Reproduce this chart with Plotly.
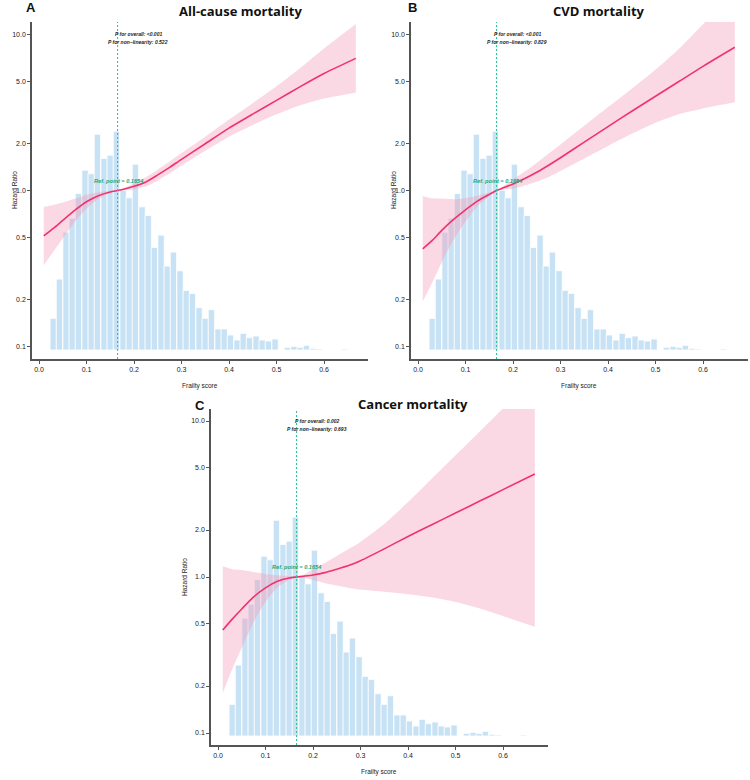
import plotly.graph_objects as go

W, H = 750, 780

# ---------------- data ----------------
# histogram of frailty score (bin width 1/75), percent of participants
frailty_bin_centers = [0.030, 0.043, 0.057, 0.070, 0.083, 0.097, 0.110, 0.123, 0.137, 0.150,
                       0.163, 0.177, 0.190, 0.203, 0.217, 0.230, 0.243, 0.257, 0.270, 0.283,
                       0.297, 0.310, 0.323, 0.337, 0.350, 0.363, 0.377, 0.390, 0.403, 0.417,
                       0.430, 0.443, 0.457, 0.470, 0.483, 0.497, 0.510, 0.523, 0.537, 0.550,
                       0.563, 0.577, 0.590, 0.603, 0.617, 0.630, 0.643]
hist_percent = [0.95, 2.13, 3.54, 3.96, 4.70, 5.40, 5.29, 6.48, 5.75, 5.85,
                6.57, 4.80, 4.57, 5.58, 4.30, 4.04, 3.08, 3.45, 2.52, 2.94,
                2.38, 1.79, 1.70, 1.27, 0.95, 1.21, 0.63, 0.63, 0.45, 0.30,
                0.50, 0.37, 0.42, 0.30, 0.27, 0.33, 0.00, 0.08, 0.11, 0.08,
                0.14, 0.05, 0.03, 0.00, 0.00, 0.00, 0.03]

frailty_grid = [0.01, 0.03, 0.05, 0.075, 0.1, 0.125, 0.15, 0.1654, 0.18, 0.2, 0.225,
                0.25, 0.275, 0.3, 0.35, 0.4, 0.45, 0.5, 0.55, 0.6, 0.667]

hr_all = [0.511, 0.571, 0.643, 0.745, 0.847, 0.927, 0.979, 1.0, 1.023, 1.064, 1.135,
          1.259, 1.406, 1.585, 1.995, 2.512, 3.090, 3.784, 4.634, 5.623, 7.031]
up_all = [0.785, 0.807, 0.838, 0.885, 0.940, 0.975, 0.995, 1.0, 1.042, 1.114, 1.216,
          1.364, 1.535, 1.738, 2.213, 2.851, 3.631, 4.656, 6.095, 8.128, 11.67]
lo_all = [0.332, 0.405, 0.493, 0.627, 0.764, 0.881, 0.964, 1.0, 1.005, 1.016, 1.059,
          1.161, 1.288, 1.445, 1.799, 2.213, 2.630, 3.076, 3.524, 3.890, 4.236]

hr_cvd = [0.423, 0.479, 0.555, 0.652, 0.752, 0.855, 0.944, 1.0, 1.040, 1.102, 1.194,
          1.309, 1.452, 1.622, 2.042, 2.570, 3.221, 4.018, 5.012, 6.252, 8.279]
up_cvd = [0.923, 0.891, 0.887, 0.879, 0.893, 0.927, 0.971, 1.0, 1.069, 1.180, 1.324,
          1.503, 1.726, 1.972, 2.600, 3.428, 4.498, 5.943, 8.128, 11.64, 18.66]
lo_cvd = [0.194, 0.257, 0.347, 0.483, 0.632, 0.789, 0.918, 1.0, 1.012, 1.028, 1.076,
          1.140, 1.222, 1.334, 1.603, 1.928, 2.307, 2.716, 3.090, 3.357, 3.673]

hr_cancer = [0.457, 0.537, 0.624, 0.745, 0.851, 0.938, 0.986, 1.0, 1.012, 1.030, 1.067,
             1.122, 1.183, 1.271, 1.514, 1.820, 2.163, 2.570, 3.055, 3.631, 4.571]
up_cancer = [1.170, 1.122, 1.109, 1.076, 1.047, 1.028, 1.014, 1.0, 1.035, 1.122, 1.230,
             1.365, 1.514, 1.679, 2.188, 3.020, 4.266, 6.026, 8.511, 12.02, 19.05]
lo_cancer = [0.180, 0.257, 0.351, 0.515, 0.692, 0.855, 0.959, 1.0, 0.989, 0.955, 0.912,
             0.881, 0.851, 0.832, 0.804, 0.776, 0.741, 0.692, 0.631, 0.562, 0.479]

ref_point = 0.1654
hr_ticks = [0.1, 0.2, 0.5, 1, 2, 5, 10]
hr_tick_labels = ["0.1", "0.2", "0.5", "1.0", "2.0", "5.0", "10.0"]
x_ticks = [0.0, 0.1, 0.2, 0.3, 0.4, 0.5, 0.6]
x_tick_labels = ["0.0", "0.1", "0.2", "0.3", "0.4", "0.5", "0.6"]

panels = [
    dict(letter="A", title="All-cause mortality", p1="P for overall: <0.001",
         p2="P for non\u2212linearity: 0.522", hr=hr_all, up=up_all, lo=lo_all,
         box=(32, 22, 368, 359), letter_xy=(31, 8), title_xy=(240, 11),
         p_xy=(138, 34), ref_xy=(119, 181), ytitle_xy=(14, 190), xtitle_xy=(200, 386)),
    dict(letter="B", title="CVD mortality", p1="P for overall: <0.001",
         p2="P for non\u2212linearity: 0.829", hr=hr_cvd, up=up_cvd, lo=lo_cvd,
         box=(411, 22, 748, 359), letter_xy=(412, 8), title_xy=(599, 11),
         p_xy=(517, 34), ref_xy=(498, 181), ytitle_xy=(393, 190), xtitle_xy=(579, 386)),
    dict(letter="C", title="Cancer mortality", p1="P for overall: 0.002",
         p2="P for non\u2212linearity: 0.693", hr=hr_cancer, up=up_cancer, lo=lo_cancer,
         box=(211, 409, 548, 745), letter_xy=(200, 405), title_xy=(413, 404),
         p_xy=(317, 421), ref_xy=(297, 567), ytitle_xy=(184, 577), xtitle_xy=(379, 772)),
]

# ---------------- styling ----------------
BAR_COLOR = "#C8E2F5"
BAND_COLOR = "rgba(245,150,180,0.36)"
LINE_COLOR = "#F0326E"
REF_COLOR = "#35C39A"
REF_TEXT = "#22A878"
AXIS_COLOR = "#555555"
PX_PER_UNIT = 475.0      # pixels per 1.0 frailty
PX_PER_DECADE = 156.0    # pixels per log10 decade
HIST_PX_PER_PCT = 33.3
HIST_BASE_PAD = 9.0
TICK_FONT = dict(family="Liberation Sans, Arial", size=7, color="#222")
SMOOTH = 0.6


def fx(x):
    return x / W


def fy(y):
    return 1 - y / H


fig = go.Figure()
layout = dict(
    width=W, height=H, margin=dict(l=0, r=0, t=0, b=0),
    paper_bgcolor="white", plot_bgcolor="white", showlegend=False,
    annotations=[], shapes=[],
)

for i, p in enumerate(panels):
    xa = "x" if i == 0 else f"x{i + 1}"
    yh = "y" if i == 0 else f"y{2 * i + 1}"
    yl = f"y{2 * i + 2}"
    xkey = "xaxis" if i == 0 else f"xaxis{i + 1}"
    yhkey = "yaxis" if i == 0 else f"yaxis{2 * i + 1}"
    ylkey = f"yaxis{2 * i + 2}"
    L, T, R, B = p["box"]
    wpx, hpx = R - L, B - T

    # histogram (background)
    fig.add_trace(go.Bar(x=frailty_bin_centers, y=hist_percent, width=1 / 75,
                         marker=dict(color=BAR_COLOR, line=dict(color="white", width=0.8)),
                         xaxis=xa, yaxis=yh, hoverinfo="skip"))
    # confidence band: upper edge, then lower edge filled to it
    fig.add_trace(go.Scatter(x=frailty_grid, y=p["up"], mode="lines",
                             line=dict(width=0, shape="spline", smoothing=SMOOTH),
                             xaxis=xa, yaxis=yl, hoverinfo="skip"))
    fig.add_trace(go.Scatter(x=frailty_grid, y=p["lo"], mode="lines", fill="tonexty",
                             fillcolor=BAND_COLOR,
                             line=dict(width=0, shape="spline", smoothing=SMOOTH),
                             xaxis=xa, yaxis=yl, hoverinfo="skip"))
    # HR curve
    fig.add_trace(go.Scatter(x=frailty_grid, y=p["hr"], mode="lines",
                             line=dict(color=LINE_COLOR, width=1.6, shape="spline",
                                       smoothing=SMOOTH),
                             xaxis=xa, yaxis=yl))

    layout[xkey] = dict(domain=[fx(L), fx(R)], anchor=yl,
                        range=[-7 / PX_PER_UNIT, (wpx - 7) / PX_PER_UNIT],
                        tickvals=x_ticks, ticktext=x_tick_labels, ticks="outside",
                        ticklen=3, tickwidth=1, tickcolor=AXIS_COLOR, tickfont=TICK_FONT,
                        showline=True, linecolor=AXIS_COLOR, linewidth=1.5,
                        showgrid=False, zeroline=False, fixedrange=True)
    layout[yhkey] = dict(domain=[fy(B), fy(T)], anchor=xa, visible=False,
                         range=[-HIST_BASE_PAD / HIST_PX_PER_PCT,
                                (hpx - HIST_BASE_PAD) / HIST_PX_PER_PCT],
                         showgrid=False, zeroline=False, fixedrange=True)
    half = (hpx / 2) / PX_PER_DECADE
    layout[ylkey] = dict(overlaying=yh, anchor=xa, side="left", type="log",
                         range=[-half, half], tickvals=hr_ticks, ticktext=hr_tick_labels,
                         ticks="outside", ticklen=3, tickwidth=1, tickcolor=AXIS_COLOR,
                         tickfont=TICK_FONT, showline=True, linecolor=AXIS_COLOR,
                         linewidth=1.5, showgrid=False, zeroline=False, fixedrange=True)

    # reference lines
    layout["shapes"].append(dict(type="line", xref=xa, yref=f"{yh} domain",
                                 x0=ref_point, x1=ref_point, y0=0, y1=1, layer="above",
                                 line=dict(color=REF_COLOR, width=1.1, dash="2px,2px")))
    layout["shapes"].append(dict(type="line", xref=f"{xa} domain", yref=yl,
                                 x0=0, x1=1, y0=0, y1=0, layer="above",
                                 line=dict(color=REF_COLOR, width=1.1, dash="2px,2px")))

    ann = layout["annotations"]
    lx, ly = p["letter_xy"]
    ann.append(dict(text="<b>%s</b>" % p["letter"], x=fx(lx), y=fy(ly), xref="paper",
                    yref="paper", showarrow=False, xanchor="center", yanchor="middle",
                    font=dict(family="Liberation Sans, Arial", size=13, color="#111")))
    tx, ty = p["title_xy"]
    ann.append(dict(text="<b>%s</b>" % p["title"], x=fx(tx), y=fy(ty), xref="paper",
                    yref="paper", showarrow=False, xanchor="center", yanchor="middle",
                    font=dict(family="Open Sans", size=13, color="#111")))
    px_, py_ = p["p_xy"]
    ann.append(dict(text="<b><i>%s</i></b>" % p["p1"], x=fx(px_), y=fy(py_), xref="paper",
                    yref="paper", showarrow=False, xanchor="center", yanchor="middle",
                    font=dict(family="Liberation Sans, Arial", size=5, color="#222")))
    ann.append(dict(text="<b><i>%s</i></b>" % p["p2"], x=fx(px_), y=fy(py_ + 7.7),
                    xref="paper", yref="paper", showarrow=False, xanchor="center",
                    yanchor="middle",
                    font=dict(family="Liberation Sans, Arial", size=5, color="#222")))
    rx, ry = p["ref_xy"]
    ann.append(dict(text="<b><i>Ref. point = %.4f</i></b>" % ref_point, x=fx(rx), y=fy(ry),
                    xref="paper", yref="paper", showarrow=False, xanchor="center",
                    yanchor="middle",
                    font=dict(family="Liberation Sans, Arial", size=5.6, color=REF_TEXT)))
    yx, yy = p["ytitle_xy"]
    ann.append(dict(text="Hazard Ratio", x=fx(yx), y=fy(yy), xref="paper", yref="paper",
                    showarrow=False, textangle=-90, xanchor="center", yanchor="middle",
                    font=dict(family="Liberation Sans, Arial", size=6.5, color="#222")))
    xx, xy = p["xtitle_xy"]
    ann.append(dict(text="Frailty score", x=fx(xx), y=fy(xy), xref="paper", yref="paper",
                    showarrow=False, xanchor="center", yanchor="middle",
                    font=dict(family="Liberation Sans, Arial", size=6.5, color="#222")))

fig.update_layout(**layout)
fig.write_html("out.html")
